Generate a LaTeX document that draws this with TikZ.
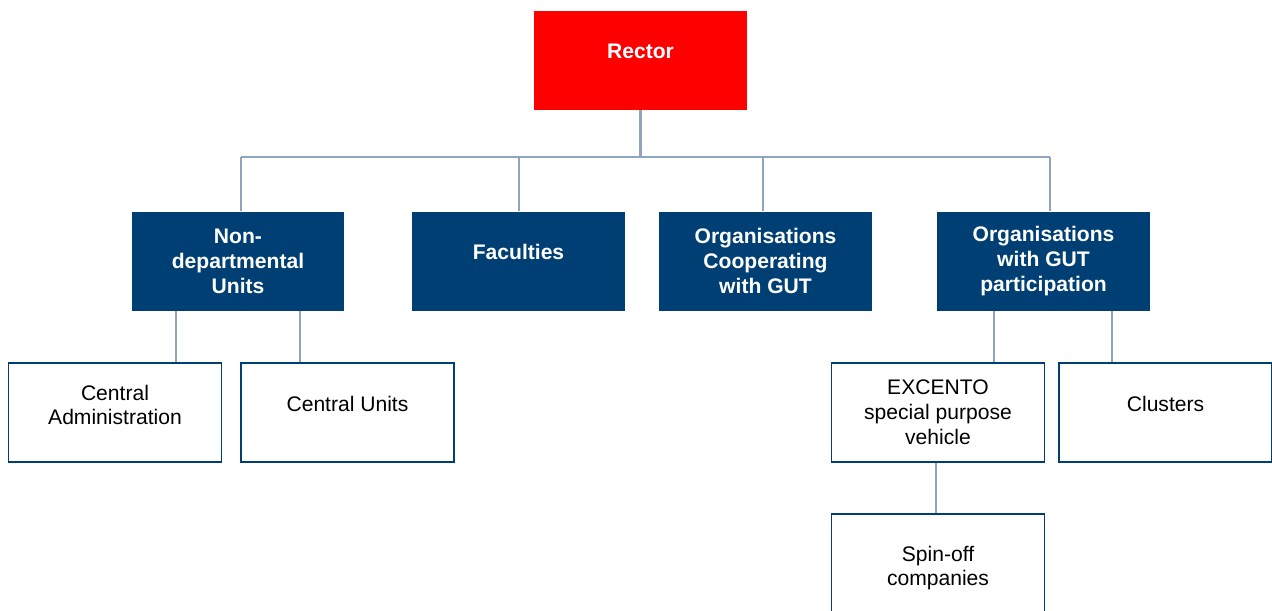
\documentclass[tikz,border=0pt]{standalone}
\usepackage{fontspec}
\setmainfont{Liberation Sans}
\usepackage{tikz}

\definecolor{gutred}{HTML}{FF0000}
\definecolor{gutnavy}{HTML}{003F74}
\definecolor{gutlink}{HTML}{8FA5BC}

% lift single lines a bit, as in the original chart
\newcommand{\lift}[2]{\raisebox{#1}[\height][\depth]{#2}}

\tikzset{
  unitbox/.style = {rectangle, inner sep = 0pt, minimum width = 4.26cm, minimum height = 1.98cm,
                    align = center, font = \fontsize{12}{14.2}\selectfont},
  headbox/.style = {unitbox, fill = gutred, text = white, font = \bfseries\fontsize{12}{14.2}\selectfont},
  mainbox/.style = {unitbox, fill = gutnavy, text = white, font = \bfseries\fontsize{12}{14.2}\selectfont},
  subbox/.style  = {unitbox, draw = gutnavy, line width = 1.1pt, fill = white, text = black},
  link/.style    = {draw = gutlink, line width = 1.3pt}
}

\begin{document}
\begin{tikzpicture}[x = 0.02cm, y = -0.02cm]
  \useasboundingbox (0, 0) rectangle (1272, 610);

  \node[headbox] at (640.5, 60.5) (rector) {\lift{0.18cm}{Rector}};

  \node[mainbox] at (238, 261) (nondep) {Non-\\departmental\\Units};
  \node[mainbox] at (518.5, 261) (fac) {\lift{0.18cm}{Faculties}};
  \node[mainbox] at (765.5, 261) (coop) {Organisations\\Cooperating\\with GUT};
  \node[mainbox] at (1043.5, 261) (part) {Organisations\\with GUT\\participation};

  \node[subbox] at (115, 412.5) (cadmin) {\lift{0.1cm}{\begin{tabular}{@{}c@{}}Central\\Administration\end{tabular}}};
  \node[subbox] at (347.5, 412.5) (cunits) {\lift{0.18cm}{Central Units}};
  \node[subbox] at (938, 412.5) (excento) {EXCENTO\\special purpose\\vehicle};
  \node[subbox] at (1165.5, 412.5) (clusters) {\lift{0.18cm}{Clusters}};
  \node[subbox] at (938, 563.5) (spinoff) {\lift{-0.1cm}{\begin{tabular}{@{}c@{}}Spin-off\\companies\end{tabular}}};

  \coordinate (bus) at (0, 157);

  % rector to the four main units
  \draw[link] (rector.south) -- (rector.south |- bus);
  \draw[link] (241,157) -- (1050,157);
  \foreach \n/\x in {nondep/241, fac/519, coop/763, part/1050}
  {
  \draw[link] (\x,157) -- (\n.north -| \x,0);
  }

  % main units to the sub units
  \draw[link] (nondep.south -| 176,0) -- (cadmin.north -| 176,0);
  \draw[link] (nondep.south -| 300,0) -- (cunits.north -| 300,0);
  \draw[link] (part.south -| 994,0) -- (excento.north -| 994,0);
  \draw[link] (part.south -| 1112,0) -- (clusters.north -| 1112,0);
  \draw[link] (excento.south -| 936,0) -- (spinoff.north -| 936,0);
\end{tikzpicture}
\end{document}
